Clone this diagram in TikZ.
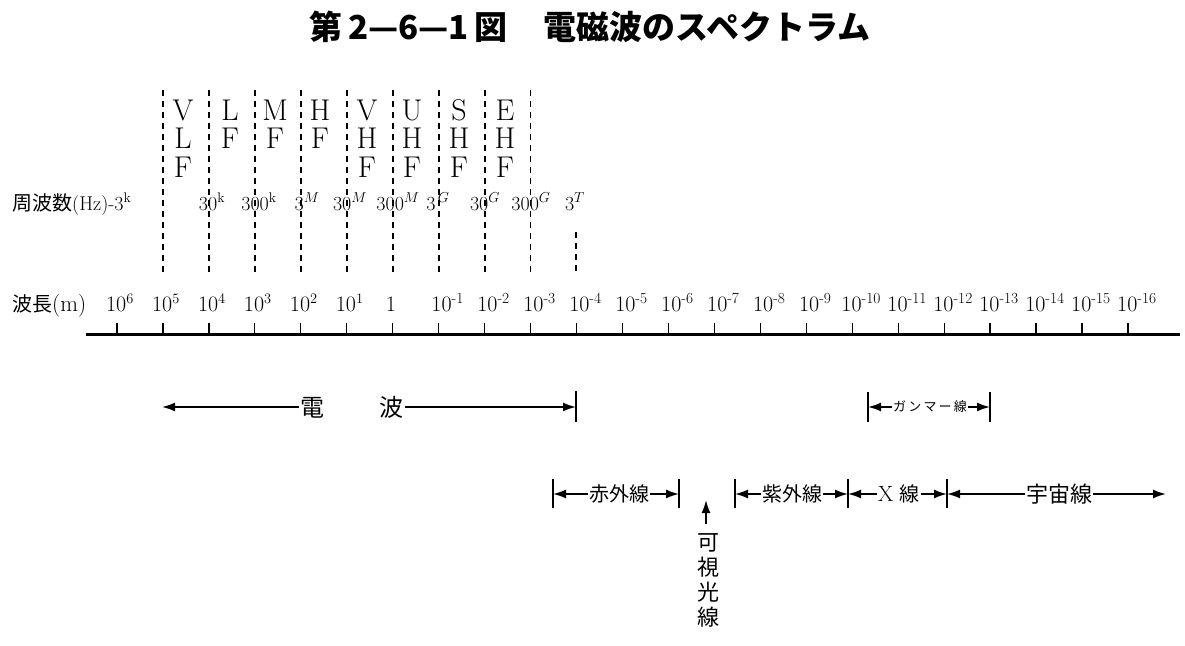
\documentclass[tikz,border=0pt]{standalone}
\usepackage{fontspec}
\newfontfamily\cjk{Noto Sans CJK JP}
\usetikzlibrary{arrows.meta}
\begin{document}
\begin{tikzpicture}[x=1pt,y=-1pt,
  bandline/.style={line width=1.8pt, dash pattern=on 6pt off 5pt},
  axisline/.style={line width=3pt},
  tickline/.style={line width=1.2pt},
  barline/.style={line width=1.8pt},
  arr/.style={line width=1.7pt, -{Latex[length=13pt,width=9pt]}},
  band/.style={font=\fontsize{30}{30}\selectfont, anchor=base, inner sep=0pt},
  wl/.style={font=\fontsize{22}{22}\selectfont, anchor=base, inner sep=0pt},
  fq/.style={font=\fontsize{20}{20}\selectfont, anchor=base, inner sep=0pt},
  jp/.style={font=\cjk\fontsize{20}{20}\selectfont, inner sep=1pt},
]
\useasboundingbox (0,0) rectangle (1185,645);
% title
\node[font=\cjk\bfseries\fontsize{33}{33}\selectfont, inner sep=0pt] (title) at (590,27) {第\,2—6—1\,図\hspace{1.1em}電磁波のスペクトラム};
% axis
\coordinate (axL) at (86,334);
\coordinate (axR) at (1180,334);
\draw[axisline] (axL) -- (axR);
% ticks
\foreach \i in {0,...,22}{
  \pgfmathsetmacro{\xx}{117+45.95*\i}
  \coordinate (t\i) at (\xx,334);
  \coordinate (tt\i) at (\xx,323);
  \draw[tickline] (t\i) -- (tt\i);
}
% wavelength labels
\foreach \i/\lab in {0/6,1/5,2/4,3/3,4/2,5/1}{
  \pgfmathsetmacro{\xx}{117+45.95*\i+3}
  \node[wl] (w\i) at (\xx,311) {10$^{\lab}$};
}
\foreach \i/\lab in {7/-1,8/-2,9/-3,10/-4,11/-5,12/-6,13/-7,14/-8,15/-9,16/-10,17/-11,18/-12,19/-13,20/-14,21/-15,22/-16}{
  \pgfmathsetmacro{\xx}{117+45.95*\i+9}
  \node[wl] (w\i) at (\xx,311) {10\textsuperscript{\lab}};
}
\node[wl] (w6) at (391,311) {1};
\node[font=\fontsize{23}{23}\selectfont, anchor=base west, inner sep=0pt] (wlab) at (12,311) {{\cjk\fontsize{20}{20}\selectfont 波長}(m)};
% dashed band lines
\foreach \i in {1,...,9}{
  \pgfmathsetmacro{\xx}{117+45.95*\i}
  \coordinate (dtop\i) at (\xx,90);
  \coordinate (dbot\i) at (\xx,275);
  \draw[bandline] (dtop\i) -- (dbot\i);
}
\coordinate (dtop10) at (576,232);
\coordinate (dbot10) at (576,275);
\draw[bandline] (dtop10) -- (dbot10);
% band names
\foreach \nm/\x/\a/\b/\c in {vlf/183/V/L/F, vhf/367/V/H/F, uhf/412/U/H/F, shf/459/S/H/F, ehf/505/E/H/F}{
  \node[band] (\nm1) at (\x,120) {\a};
  \node[band] (\nm2) at (\x,148) {\b};
  \node[band] (\nm3) at (\x,177) {\c};
}
\foreach \nm/\x/\a/\b in {lf/230/L/F, mf/275/M/F, hf/320/H/F}{
  \node[band] (\nm1) at (\x,120) {\a};
  \node[band] (\nm2) at (\x,148) {\b};
}
% frequency row
\node[font=\fontsize{20}{20}\selectfont, anchor=base west, inner sep=0pt] (flab) at (12,210) {{\cjk 周波数}(Hz)-3$^{\rm k}$};
\node[fq] (f2) at (212,210) {30$^{\rm k}$};
\node[fq] (f3) at (259,210) {300$^{\rm k}$};
\node[fq] (f4) at (307,210) {3$^{M}$};
\node[fq] (f5) at (350,210) {30$^{M}$};
\node[fq] (f6) at (398,210) {300$^{M}$};
\node[fq] (f7) at (438,210) {3$^{\,G}$};
\node[fq] (f8) at (485,210) {30$^{G}$};
\node[fq] (f9) at (531,210) {300$^{G}$};
\node[fq] (f10) at (575,210) {3$^{T}$};
% radio wave
\node[jp, font=\cjk\fontsize{24}{24}\selectfont] (denpa) at (352,407) {電\hspace{2.3em}波};
\coordinate (rL) at (162,407);
\coordinate (rR) at (576,407);
\coordinate (rRt) at (576,391);
\coordinate (rRb) at (576,422);
\draw[barline] (rRt) -- (rRb);
\draw[arr] (denpa) -- (rL);
\draw[arr] (denpa) -- (rR);
% gamma
\node[font=\cjk\fontsize{13}{13}\selectfont, inner sep=1pt] (gamma) at (930,407) {ガ\,ン\,マ\,ー\,線};
\coordinate (gL) at (868,407);
\coordinate (gR) at (990,407);
\draw[barline] (868,392) coordinate (gLt) -- (868,422) coordinate (gLb);
\draw[barline] (990,392) coordinate (gRt) -- (990,422) coordinate (gRb);
\draw[arr] (gamma) -- (gL);
\draw[arr] (gamma) -- (gR);
% lower row
\foreach \n/\x in {a/553,b/679,c/735,d/848,e/947}{
  \coordinate (\n) at (\x,494);
  \draw[barline] (\x,479) coordinate (\n t) -- (\x,508) coordinate (\n b);
}
\coordinate (cosR) at (1166,494);
\node[jp] (ir) at (619,494) {赤外線};
\node[jp] (uv) at (792,494) {紫外線};
\node[jp, font=\fontsize{22}{22}\selectfont] (xr) at (899,494) {X\ {\cjk\fontsize{20}{20}\selectfont 線}};
\node[jp, font=\cjk\fontsize{22}{22}\selectfont] (cos) at (1059,494) {宇宙線};
\draw[arr] (ir) -- (a);
\draw[arr] (ir) -- (b);
\draw[arr] (uv) -- (c);
\draw[arr] (uv) -- (d);
\draw[arr] (xr) -- (d);
\draw[arr] (xr) -- (e);
\draw[arr] (cos) -- (e);
\draw[arr] (cos) -- (cosR);
% visible light
\node[font=\cjk\fontsize{22}{25}\selectfont, align=center, anchor=north, inner sep=0pt] (vis) at (708,533) {可\\視\\光\\線};
\coordinate (visTip) at (706,500);
\draw[arr] (706,524) coordinate (visBase) -- (visTip);
\end{tikzpicture}
\end{document}
